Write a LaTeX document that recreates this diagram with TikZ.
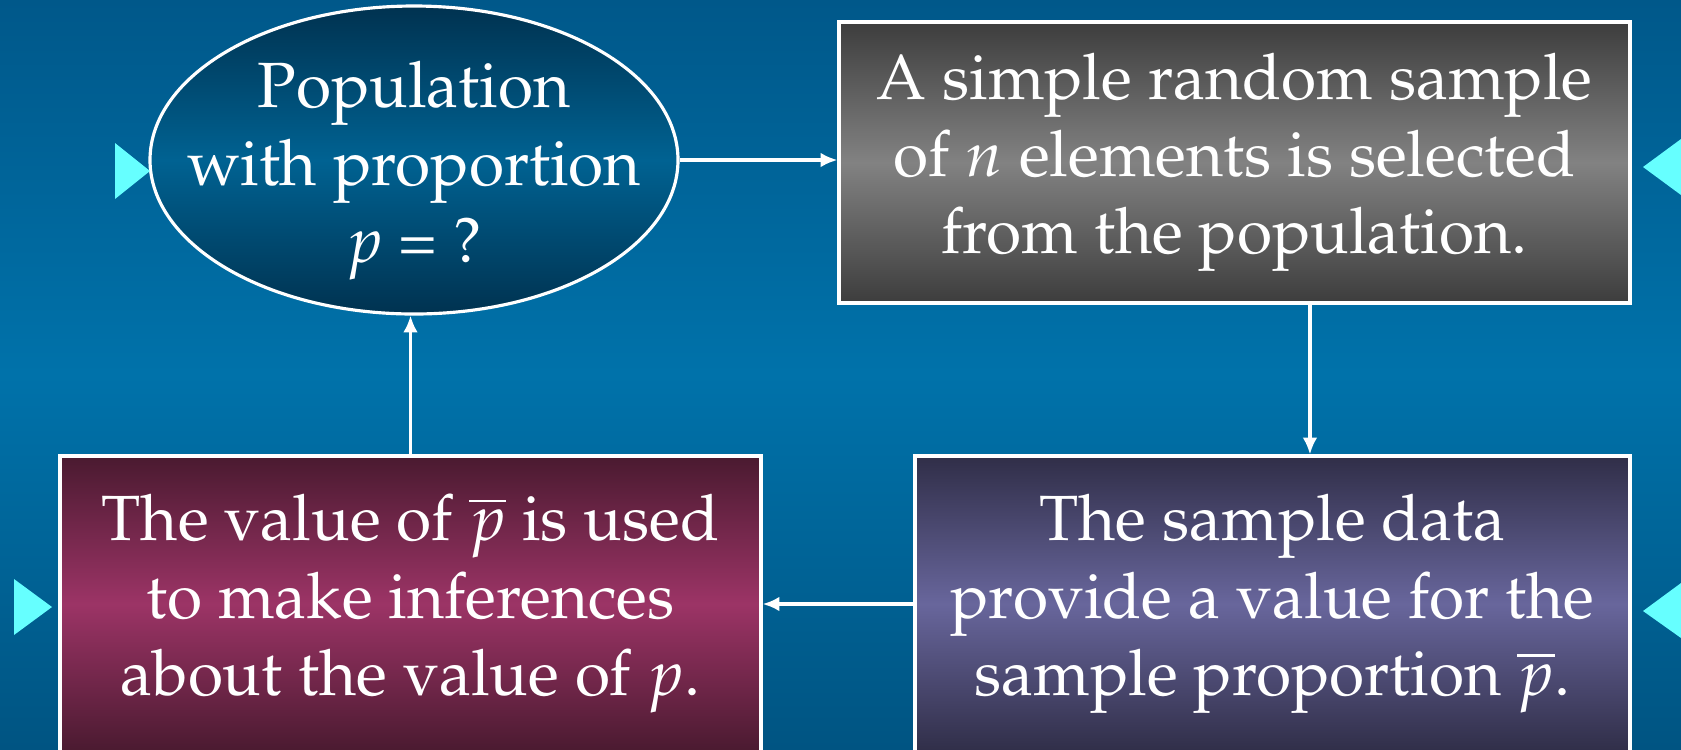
\documentclass[tikz,border=0pt]{standalone}
\usepackage[T1]{fontenc}
\usepackage{mathpazo}
\usetikzlibrary{arrows.meta,%
                shapes.geometric,%
                calc}

\definecolor{BgTop}{RGB}{0,88,138}
\definecolor{BgMid}{RGB}{0,114,170}
\definecolor{BgBot}{RGB}{0,84,130}
\definecolor{MarkCyan}{RGB}{102,255,255}

\begin{document}
\begin{tikzpicture}[>={Latex[length=4.8pt,width=4.2pt]}, line width=0.9pt]
  \tikzset{TextStyle/.style = {text = white,
                               align = center,
                               inner sep = 0,
                               font = \fontsize{18.2}{22}\selectfont},
           BoxStyle/.style = {TextStyle, draw = white, rectangle},
           EllipseStyle/.style = {draw = white, ellipse, inner sep = 0,
                                  minimum width = 5.28cm, minimum height = 3.08cm,
                                  top color = {rgb,255:red,0;green,50;blue,80},
                                  bottom color = {rgb,255:red,0;green,50;blue,80},
                                  middle color = {rgb,255:red,0;green,98;blue,146}},
           EdgeStyle/.style = {draw = white, ->},
           MarkStyle/.style = {fill = MarkCyan}}
  \useasboundingbox (0,0) rectangle (16.81,7.49);
  \clip (0,0) rectangle (16.81,7.49);
  \shade[top color = BgTop, bottom color = BgBot, middle color = BgMid]
        (0,0) rectangle (16.81,7.49);

  % the four steps
  \node[EllipseStyle,
        label = {[TextStyle, yshift = -0.11cm]center:Population\\with proportion\\$p$ = ?}]
        (Pop) at (4.14,5.89) {};
  \node[BoxStyle, minimum width = 7.91cm, minimum height = 2.81cm,
        top color = {rgb,255:red,61;green,61;blue,61},
        bottom color = {rgb,255:red,61;green,61;blue,61},
        middle color = {rgb,255:red,130;green,130;blue,130}]
        (Sample) at (12.345,5.865)
        {A simple random sample\\of $n$ elements is selected\\from the population.};
  \node[BoxStyle, minimum width = 7.15cm, minimum height = 2.96cm,
        top color = {rgb,255:red,48;green,46;blue,72},
        bottom color = {rgb,255:red,48;green,46;blue,72},
        middle color = {rgb,255:red,104;green,102;blue,156}]
        (Data) at (12.725,1.45)
        {The sample data\\provide a value for the\\sample proportion $\overline{p}$.};
  \node[BoxStyle, minimum width = 7.01cm, minimum height = 2.96cm,
        top color = {rgb,255:red,74;green,26;blue,48},
        bottom color = {rgb,255:red,74;green,26;blue,48},
        middle color = {rgb,255:red,156;green,52;blue,102}]
        (Infer) at (4.105,1.45)
        {The value of $\overline{p}$ is used\\to make inferences\\about the value of $p$.};

  % connectors
  \coordinate (Drop) at ($(Sample.south west)!0.595!(Sample.south east)$);
  \draw[EdgeStyle] (Pop.east) -- (Pop.east -| Sample.west);
  \draw[EdgeStyle] (Drop) -- (Drop |- Data.north);
  \draw[EdgeStyle] (Data.west) -- (Data.west -| Infer.east);
  \draw[EdgeStyle] (Infer.north) -- (Infer.north |- Pop.south);

  % bullet marks
  \fill[MarkStyle] (1.15,6.06) -- (1.50,5.78) -- (1.15,5.50) -- cycle;
  \fill[MarkStyle] (16.81,6.10) -- (16.43,5.82) -- (16.81,5.54) -- cycle;
  \fill[MarkStyle] (0.14,1.70) -- (0.52,1.42) -- (0.14,1.14) -- cycle;
  \fill[MarkStyle] (16.81,1.66) -- (16.43,1.38) -- (16.81,1.11) -- cycle;
\end{tikzpicture}
\end{document}
